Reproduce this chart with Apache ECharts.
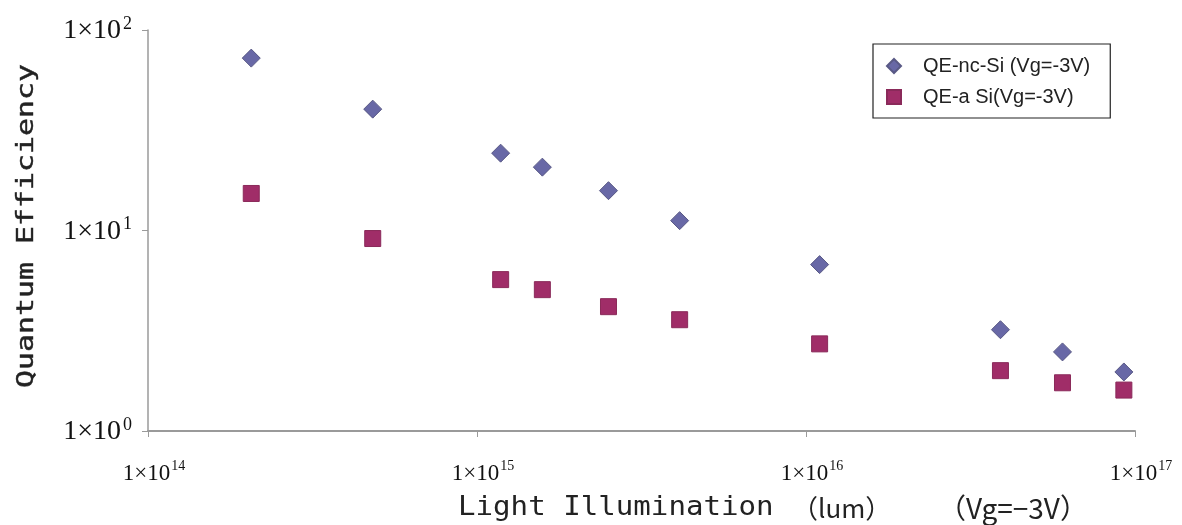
<!DOCTYPE html>
<html>
<head>
<meta charset="utf-8">
<title>Quantum Efficiency vs Light Illumination</title>
<script src="https://cdn.jsdelivr.net/npm/echarts@6/dist/echarts.min.js"></script>
<style>
  html, body { margin: 0; padding: 0; background: #ffffff; }
  #chart { width: 1182px; height: 525px; }
</style>
</head>
<body>
<div id="chart"></div>
<script>
// Illumination levels (lum) shared by both devices
const illumination = [2.06e14, 4.82e14, 1.18e15, 1.58e15, 2.51e15, 4.13e15, 1.10e16, 3.9e16, 6.02e16, 9.25e16];
// Quantum efficiency of the nc-Si device at Vg = -3 V
const qeNcSi = [72.4, 40.3, 24.3, 20.7, 15.8, 11.2, 6.76, 3.2, 2.48, 1.97];
// Quantum efficiency of the a-Si device at Vg = -3 V
const qeASi = [15.3, 9.12, 5.69, 5.07, 4.17, 3.59, 2.72, 2.0, 1.74, 1.60];

const seriesNames = ['QE-nc-Si (Vg=-3V)', 'QE-a Si(Vg=-3V)'];
const xTitleParts = ['Light Illumination', '（lum）', '（Vg=−3V）'];
const yTitle = 'Quantum Efficiency';

// decade range of each log axis
const xRange = [1e14, 1e17];
const yRange = [1, 100];

function pairs(xs, ys) {
  return xs.map((x, i) => [x, ys[i]]);
}
function powLabel(v) {
  const e = Math.round(Math.log10(v));
  return '{b|1×10}{s|' + e + '}';
}

const chart = echarts.init(document.getElementById('chart'), null, { renderer: 'canvas' });

chart.setOption({
  backgroundColor: '#ffffff',
  animation: false,
  grid: { left: 148, top: 30, right: 47, bottom: 94, containLabel: false },
  xAxis: {
    type: 'log',
    logBase: 10,
    min: xRange[0],
    max: xRange[1],
    splitLine: { show: false },
    axisLine: { lineStyle: { color: '#9a9a9a', width: 2 } },
    axisTick: { show: true, length: 6, lineStyle: { color: '#9a9a9a', width: 1 } },
    minorTick: { show: false },
    axisLabel: {
      margin: 28,
      padding: [0, 0, 0, 12],
      formatter: powLabel,
      rich: {
        b: { fontFamily: 'Liberation Serif', fontSize: 23, color: '#111', verticalAlign: 'bottom', lineHeight: 26 },
        s: { fontFamily: 'Liberation Serif', fontSize: 14, color: '#111', verticalAlign: 'top', lineHeight: 26, padding: [0, 0, 0, 1] }
      }
    }
  },
  yAxis: {
    type: 'log',
    logBase: 10,
    min: yRange[0],
    max: yRange[1],
    splitLine: { show: false },
    axisLine: { lineStyle: { color: '#9a9a9a', width: 1.5 } },
    axisTick: { show: true, length: 6, lineStyle: { color: '#9a9a9a', width: 1 } },
    minorTick: { show: false },
    axisLabel: {
      margin: 16,
      formatter: powLabel,
      rich: {
        b: { fontFamily: 'Liberation Serif', fontSize: 28, color: '#111', verticalAlign: 'bottom', lineHeight: 30 },
        s: { fontFamily: 'Liberation Serif', fontSize: 18, color: '#111', verticalAlign: 'top', lineHeight: 30, padding: [0, 0, 0, 2] }
      }
    }
  },
  legend: {
    orient: 'vertical',
    left: 873,
    top: 44,
    padding: [12, 20, 11, 13],
    itemGap: 11,
    itemWidth: 14,
    itemHeight: 14,
    borderColor: '#222',
    borderWidth: 1.2,
    backgroundColor: '#ffffff',
    textStyle: {
      fontFamily: 'Liberation Sans Narrow, Liberation Sans',
      fontSize: 20,
      color: '#222',
      padding: [0, 0, 0, 17]
    },
    data: [
      { name: seriesNames[0], icon: 'diamond' },
      { name: seriesNames[1], icon: 'rect' }
    ]
  },
  series: [
    {
      name: seriesNames[0],
      type: 'scatter',
      symbol: 'diamond',
      symbolSize: 18,
      itemStyle: { color: '#6868a6', borderColor: '#595985', borderWidth: 1, opacity: 1 },
      data: pairs(illumination, qeNcSi),
      z: 2
    },
    {
      name: seriesNames[1],
      type: 'scatter',
      symbol: 'rect',
      symbolSize: 16,
      itemStyle: { color: '#a02d68', borderColor: '#8a2a5a', borderWidth: 1, opacity: 1 },
      data: pairs(illumination, qeASi),
      z: 3
    }
  ],
  graphic: [
    {
      type: 'text',
      x: 27,
      y: 388,
      rotation: Math.PI / 2,
      scaleX: 1.3,
      style: {
        text: yTitle,
        fontFamily: 'DejaVu Sans Mono',
        fontSize: 23,
        fill: '#222',
        stroke: '#222',
        lineWidth: 0.4,
        align: 'left',
        verticalAlign: 'middle'
      }
    },
    {
      type: 'text',
      x: 458,
      y: 508,
      scaleX: 1.12,
      style: {
        text: xTitleParts[0],
        fontFamily: 'DejaVu Sans Mono',
        fontSize: 26,
        fill: '#222',
        align: 'left',
        verticalAlign: 'middle'
      }
    },
    {
      type: 'text',
      x: 792,
      y: 508,
      style: {
        text: xTitleParts[1],
        fontFamily: 'Noto Sans CJK JP',
        fontSize: 26,
        fill: '#222',
        align: 'left',
        verticalAlign: 'middle'
      }
    },
    {
      type: 'text',
      x: 938,
      y: 508,
      style: {
        text: xTitleParts[2],
        fontFamily: 'Noto Sans CJK JP',
        fontSize: 28,
        fill: '#222',
        align: 'left',
        verticalAlign: 'middle'
      }
    }
  ]
});
</script>
</body>
</html>
